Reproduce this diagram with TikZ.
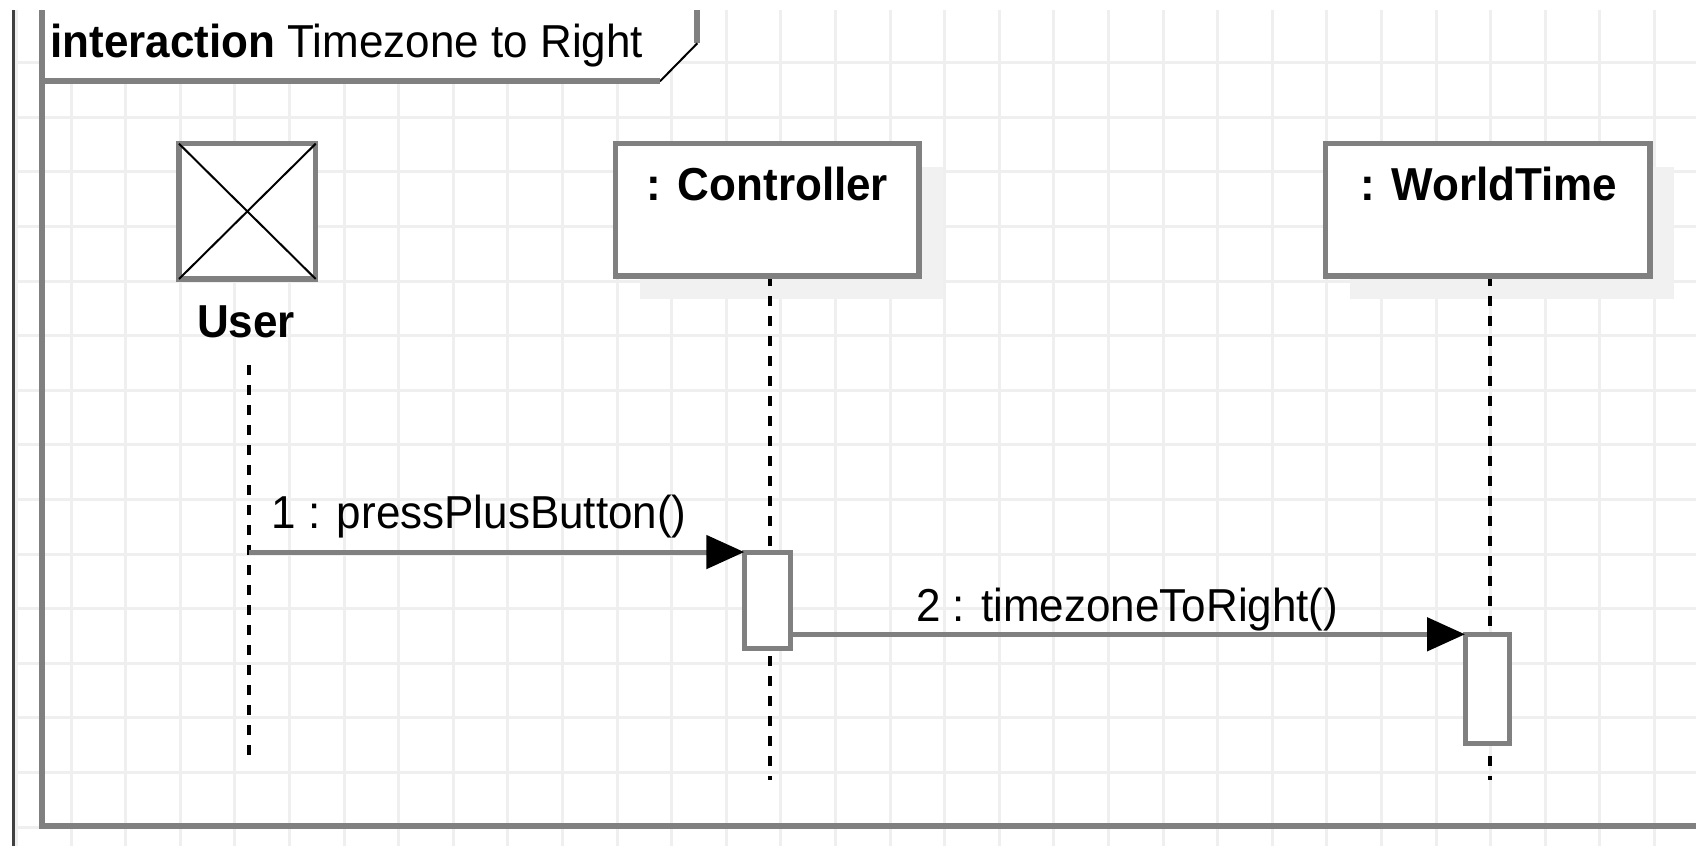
\documentclass[tikz,border=0pt]{standalone}
\usepackage{fontspec}
\setmainfont{Liberation Sans}
\usepackage{graphicx}
\usetikzlibrary{arrows.meta}
\definecolor{gridc}{RGB}{239,239,239}
\definecolor{shad}{RGB}{241,241,241}
\definecolor{edge}{RGB}{128,128,128}
\definecolor{outerc}{RGB}{64,64,64}
\newcommand{\tstretch}[1]{\scalebox{1}[1.05]{#1}}
\begin{document}
\begin{tikzpicture}[x=0.5pt,y=-0.5pt,
  every node/.style={inner sep=0pt,outer sep=0pt},
  txt/.style={font=\fontsize{22}{26}\selectfont},
  objbox/.style={draw=edge,line width=2.75pt,fill=white},
  shadowbox/.style={fill=shad},
  life/.style={draw=black,line width=1.75pt,dash pattern=on 5pt off 5pt},
  actbox/.style={draw=edge,line width=2.5pt,fill=white},
  msg/.style={draw=edge,line width=2.5pt,-{Triangle[length=19pt,width=16.5pt,color=black,fill=black]}},
  gridline/.style={draw=gridc,line width=1.5pt},
  frameline/.style={draw=edge,line width=3pt},
]
\useasboundingbox (0,0) rectangle (1696,846);
\fill[white] (0,0) rectangle (1696,846);
% grid
\foreach \i in {0,...,30} \draw[gridline] ({16.4+54.6*\i},10) -- ({16.4+54.6*\i},846);
\foreach \j in {1,...,15} \draw[gridline] (16.4,{8+54.6*\j}) -- (1696,{8+54.6*\j});
\fill[white] (0,0) rectangle (1696,10);
% outer line
\draw[outerc,line width=1.5pt] (13.3,10) -- (13.3,846);
% pentagon
\fill[white] (42.3,10) -- (697.3,10) -- (697.3,43.3) -- (660,81.3) -- (42.3,81.3) -- cycle;
\draw[frameline] (697.3,10) -- (697.3,43.3);
\draw[black,line width=1pt] (697.3,43.3) -- (660,81.3);
\draw[frameline] (660,81.3) -- (42.3,81.3);
% frame
\draw[frameline] (42.3,10) -- (42.3,825.5) -- (1700,825.5);
% shadows
\node[shadowbox,minimum width=151.75pt,minimum height=66.15pt] (ctrlsh) at (791.25,232.85) {};
\node[shadowbox,minimum width=162.25pt,minimum height=66.15pt] (wtsh) at (1511.75,232.85) {};
% lifelines
\coordinate (uls) at (249,365);
\coordinate (ule) at (249,764);
\coordinate (cle) at (770,780);
\coordinate (wle) at (1490,780);
\draw[life] (uls) -- (ule);
\draw[life] (770,276) -- (cle);
\draw[life] (1490,276) -- (wle);
% boxes
\node[objbox,minimum width=68.35pt,minimum height=67.65pt] (user) at (247.35,211.35) {};
\draw[black,line width=1pt] (user.north west) -- (user.south east) (user.north east) -- (user.south west);
\node[objbox,minimum width=151.75pt,minimum height=66.15pt] (ctrl) at (767.25,209.85) {};
\node[objbox,minimum width=162.25pt,minimum height=66.15pt] (wt) at (1487.75,209.85) {};
% activations
\node[actbox,minimum width=23pt,minimum height=48.15pt] (cact) at (767.3,600.2) {};
\node[actbox,minimum width=22pt,minimum height=54.7pt] (wact) at (1487,689) {};
% messages
\draw[msg] (cact.north west -| uls) -- (cact.north west);
\draw[msg] (cact.east |- wact.north west) -- (wact.north west);
% texts
\node[txt,anchor=base west] (title) at (50.5,57.5) {\tstretch{\textbf{interaction} Timezone to Right}};
\node[txt,anchor=base] (userlbl) at (246,337.5) {\tstretch{\bfseries User}};
\node[txt,anchor=base] (ctrllbl) at (767.5,200) {\tstretch{\bfseries : Controller}};
\node[txt,anchor=base] (wtlbl) at (1489,200) {\tstretch{\bfseries : WorldTime}};
\node[txt,anchor=base west] (m1) at (271.7,528.3) {\tstretch{1 : pressPlusButton()}};
\node[txt,anchor=base west] (m2) at (916,621) {\tstretch{2 : timezoneToRight()}};
\end{tikzpicture}
\end{document}
